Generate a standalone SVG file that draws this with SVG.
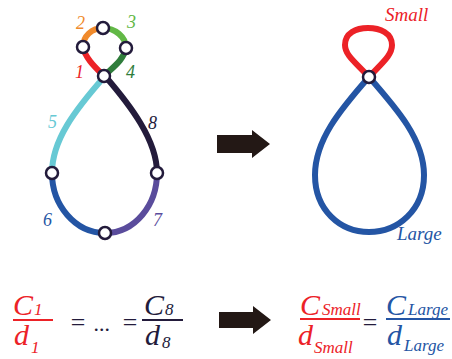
<svg xmlns="http://www.w3.org/2000/svg" width="452" height="359" viewBox="0 0 452 359">
<style>
.seg{fill:none;stroke-width:6;stroke-linecap:butt}
.nd{fill:#fff;stroke:#231b3b;stroke-width:2.5}
text{font-family:"Liberation Serif","Times New Roman",serif;font-style:italic}
.lbl{font-size:18px}
.big{font-size:30px}
.sub{font-size:17px}
.red{fill:#ec2227}
.blue{fill:#2455a4}
.dark{fill:#231b3b}
.arrow{fill:#231815}
</style>
<g id="connectors">
<path class="seg" stroke="#ec2227" d="M104,76 C96,68 85,58 83,47"/>
<path class="seg" stroke="#f08a2c" d="M83,47 C83,36 92,28 103,28"/>
<path class="seg" stroke="#62b846" d="M103,28 C115,28 126,37 126,48"/>
<path class="seg" stroke="#2f7d3b" d="M126,48 C124,60 112,68 104,76"/>
<path class="seg" stroke="#67c9d4" d="M105,76 C75,110 52,140 52,173"/>
<path class="seg" stroke="#2455a4" d="M52,173 C52,205 75,233 105,233"/>
<path class="seg" stroke="#5a4c9c" d="M105,233 C135,233 157,205 157,173"/>
<path class="seg" stroke="#231b3b" d="M157,173 C157,140 130,105 105,76"/>
<path class="seg" stroke="#ec2227" stroke-width="6.5" d="M369,77 C355,62 345,55 345,45 C345,33 356,28 368,28 C380,28 392,33 392,45 C392,55 383,62 369,77"/>
<path class="seg" stroke="#2455a4" stroke-width="6.5" d="M369,77 C340,110 315,140 315,175 C315,210 340,232 369,232 C398,232 424,210 424,175 C424,140 398,110 369,77"/>
</g>
<g id="n-left-top"><circle class="nd" cx="103" cy="28" r="6"/></g>
<g id="n-left-l"><circle class="nd" cx="83" cy="47" r="6"/></g>
<g id="n-left-r"><circle class="nd" cx="126" cy="48" r="6"/></g>
<g id="n-left-j"><circle class="nd" cx="104" cy="76" r="6"/></g>
<g id="n-left-5"><circle class="nd" cx="52" cy="173" r="6"/></g>
<g id="n-left-8"><circle class="nd" cx="157" cy="173" r="6"/></g>
<g id="n-left-b"><circle class="nd" cx="105" cy="233" r="6"/></g>
<g id="n-right-j"><circle class="nd" cx="369" cy="77" r="6"/></g>
<g id="labels">
<text class="lbl" x="76" y="29" fill="#f08a2c">2</text>
<text class="lbl" x="127" y="28" fill="#62b846">3</text>
<text class="lbl" x="75" y="78" fill="#ec2227">1</text>
<text class="lbl" x="126" y="78" fill="#2f7d3b">4</text>
<text class="lbl" x="48" y="128" fill="#67c9d4">5</text>
<text class="lbl" x="148" y="129" fill="#231b3b">8</text>
<text class="lbl" x="43" y="226" fill="#2455a4">6</text>
<text class="lbl" x="153" y="226" fill="#5a4c9c">7</text>
<text x="385" y="21" fill="#ec2227" font-size="19">Small</text>
<text x="397" y="240" fill="#2455a4" font-size="19">Large</text>
</g>
<g id="arrows">
<path class="arrow" d="M217,135 H252 V130 L270,144 L252,158 V153 H217 Z"/>
<path class="arrow" d="M219,312 H253 V306 L271,320 L253,334 V328 H219 Z"/>
</g>
<g id="formula-left">
<text class="big red" x="13" y="315">C</text>
<text class="sub red" x="34" y="315">1</text>
<line x1="13" y1="320" x2="53" y2="320" stroke="#ec2227" stroke-width="1.8"/>
<text class="big red" x="14" y="345">d</text>
<text class="sub red" x="31" y="353">1</text>
<text class="dark" x="69" y="331" font-size="26" font-style="normal">=</text>
<text class="dark" x="94" y="331" font-size="22" font-style="normal">...</text>
<text class="dark" x="121" y="331" font-size="26" font-style="normal">=</text>
<line x1="142" y1="320" x2="183" y2="320" stroke="#231b3b" stroke-width="1.8"/>
<text class="big dark" x="144" y="315">C</text>
<text class="sub dark" x="165" y="315">8</text>
<text class="big dark" x="145" y="345">d</text>
<text class="sub dark" x="162" y="348">8</text>
</g>
<g id="formula-right">
<text class="big red" x="300" y="315">C</text>
<text class="sub red" x="322" y="315">Small</text>
<line x1="300" y1="319" x2="360" y2="319" stroke="#ec2227" stroke-width="1.8"/>
<text class="big red" x="298" y="345">d</text>
<text class="sub red" x="314" y="353">Small</text>
<text class="dark" x="361" y="331" font-size="26" font-style="normal">=</text>
<text class="big blue" x="386" y="315">C</text>
<text class="sub blue" x="408" y="315">Large</text>
<line x1="386" y1="319" x2="450" y2="319" stroke="#2455a4" stroke-width="1.8"/>
<text class="big blue" x="387" y="345">d</text>
<text class="sub blue" x="404" y="351">Large</text>
</g>
</svg>
